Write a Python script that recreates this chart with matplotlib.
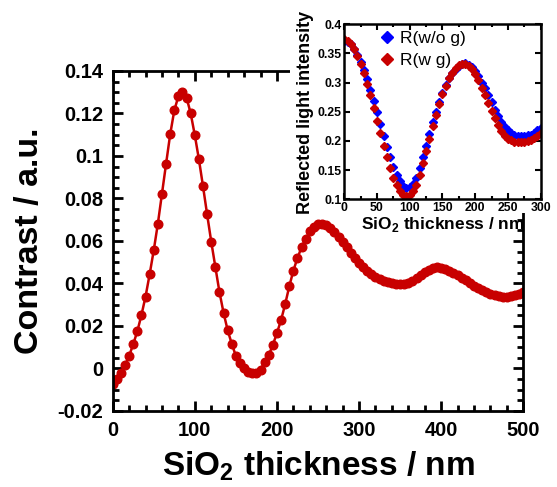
import numpy as np
import matplotlib
matplotlib.use('Agg')
import matplotlib.pyplot as plt
from matplotlib.patches import Rectangle
from matplotlib.ticker import MultipleLocator

plt.rcParams['font.family'] = ['Liberation Sans', 'DejaVu Sans']
plt.rcParams['font.weight'] = 'bold'
plt.rcParams['mathtext.fontset'] = 'custom'
plt.rcParams['mathtext.rm'] = 'Liberation Sans:bold'
plt.rcParams['mathtext.bf'] = 'Liberation Sans:bold'

# main panel: optical contrast vs SiO2 thickness (5 nm steps)
thickness = np.arange(0, 505, 5)
contrast = [
    -0.0075, -0.0049, -0.0021, 0.0016, 0.0059, 0.0114, 0.0175, 0.0251, 0.0338, 0.0443,
    0.0556, 0.0681, 0.0822, 0.0963, 0.1101, 0.1214, 0.1281, 0.1302, 0.1274, 0.1200,
    0.1098, 0.0984, 0.0857, 0.0725, 0.0597, 0.0478, 0.0360, 0.0262, 0.0180, 0.0116,
    0.0059, 0.0024, 0.0002, -0.0015, -0.0022, -0.0020, -0.0005, 0.0030, 0.0063, 0.0110,
    0.0167, 0.0227, 0.0302, 0.0386, 0.0460, 0.0520, 0.0570, 0.0610, 0.0645, 0.0668,
    0.0678, 0.0680, 0.0674, 0.0660, 0.0640, 0.0618, 0.0595, 0.0570, 0.0545, 0.0520,
    0.0498, 0.0478, 0.0460, 0.0445, 0.0432, 0.0420, 0.0411, 0.0405, 0.0401, 0.0398,
    0.0397, 0.0399, 0.0403, 0.0411, 0.0424, 0.0438, 0.0452, 0.0464, 0.0472, 0.0476,
    0.0475, 0.0470, 0.0461, 0.0451, 0.0440, 0.0428, 0.0415, 0.0403, 0.0390, 0.0378,
    0.0367, 0.0358, 0.0350, 0.0344, 0.0340, 0.0338, 0.0338, 0.0340, 0.0344, 0.0350,
    0.0358,
]

# inset: reflected light intensity without / with graphene
thk_in = np.arange(0, 305, 5)
r_wo = [
    0.372, 0.370, 0.366, 0.358, 0.348, 0.336, 0.322, 0.306, 0.288, 0.269,
    0.249, 0.229, 0.209, 0.190, 0.172, 0.156, 0.142, 0.131, 0.123, 0.120,
    0.121, 0.127, 0.137, 0.153, 0.172, 0.192, 0.212, 0.232, 0.250, 0.267,
    0.283, 0.296, 0.308, 0.317, 0.324, 0.329, 0.332, 0.333, 0.331, 0.327,
    0.320, 0.311, 0.300, 0.290, 0.278, 0.266, 0.253, 0.242, 0.232, 0.224,
    0.218, 0.213, 0.210, 0.209, 0.208, 0.208, 0.210, 0.211, 0.214, 0.218,
    0.222,
]
r_w = [
    0.375, 0.372, 0.367, 0.357, 0.346, 0.332, 0.316, 0.298, 0.278, 0.257,
    0.235, 0.213, 0.192, 0.172, 0.153, 0.137, 0.124, 0.114, 0.107, 0.106,
    0.108, 0.115, 0.125, 0.142, 0.162, 0.183, 0.204, 0.226, 0.245, 0.264,
    0.281, 0.295, 0.308, 0.317, 0.325, 0.330, 0.332, 0.332, 0.329, 0.323,
    0.315, 0.304, 0.291, 0.279, 0.265, 0.252, 0.239, 0.227, 0.217, 0.209,
    0.203, 0.201, 0.199, 0.198, 0.198, 0.198, 0.200, 0.202, 0.205, 0.209,
    0.213,
]

red = '#C80000'
blue = '#0000FF'

fig = plt.figure(figsize=(5.57, 4.87), dpi=100)
ax = fig.add_axes([0.2023, 0.1561, 0.7372, 0.6982])
ax.plot(thickness, contrast, '-o', color=red, lw=1.8, ms=6.2, mec=red, mfc=red)
ax.set_xlim(0, 500)
ax.set_ylim(-0.02, 0.14)
ax.xaxis.set_major_locator(MultipleLocator(100))
ax.xaxis.set_minor_locator(MultipleLocator(20))
ax.yaxis.set_minor_locator(MultipleLocator(0.005))
ax.set_yticks(np.arange(-0.02, 0.141, 0.02))
ax.set_yticklabels(['-0.02', '0', '0.02', '0.04', '0.06', '0.08', '0.1', '0.12', '0.14'])
ax.tick_params(which='both', direction='in', top=True, right=True, width=2)
ax.tick_params(which='major', length=7, labelsize=14.5, pad=7)
ax.tick_params(which='minor', length=4.5)
for s in ax.spines.values():
    s.set_linewidth(2)

fig.text(318 / 557, (487 - 475) / 487, r'SiO$_2$ thickness / nm', ha='center',
         va='baseline', fontsize=24, fontweight='bold')
fig.text(30 / 557, (487 - 241) / 487, 'Contrast / a.u.', rotation=90, ha='center',
         va='center', fontsize=24.5, fontweight='bold')

# white box behind the inset
fig.patches.append(Rectangle((0.5207, 0.5626), 0.4793, 0.4374, transform=fig.transFigure,
                             facecolor='white', edgecolor='none', zorder=0.5))

axi = fig.add_axes([0.6181, 0.5908, 0.3526, 0.3593])
axi.set_zorder(1)
axi.plot(thk_in, r_wo, 'D', color=blue, ms=4.1, mec=blue, label='R(w/o g)')
axi.plot(thk_in, r_w, 'D', color=red, ms=4.1, mec=red, label='R(w g)')
axi.set_xlim(0, 300)
axi.set_ylim(0.1, 0.4)
axi.xaxis.set_major_locator(MultipleLocator(50))
axi.xaxis.set_minor_locator(MultipleLocator(25))
axi.set_yticks([0.1, 0.15, 0.2, 0.25, 0.3, 0.35, 0.4])
axi.set_yticklabels(['0.1', '0.15', '0.2', '0.25', '0.3', '0.35', '0.4'])
axi.tick_params(which='both', direction='in', top=True, right=True, width=1.5)
axi.tick_params(which='major', length=4, labelsize=8.8, pad=2)
axi.tick_params(which='minor', length=2.5)
for s in axi.spines.values():
    s.set_linewidth(1.8)
axi.set_xlabel(r'SiO$_2$ thickness / nm', fontsize=12.5, fontweight='bold', labelpad=1)
fig.text(305 / 557, (487 - 112) / 487, 'Reflected light intensity', rotation=90,
         ha='center', va='center', fontsize=13, fontweight='bold', zorder=2)
leg = axi.legend(loc='upper left', bbox_to_anchor=(0.13, 1.02), frameon=False,
                 markerscale=1.6, handlelength=0.8, handletextpad=0.35,
                 labelspacing=0.35, borderaxespad=0.2,
                 prop={'size': 12.5, 'weight': 'normal'})

fig.savefig('out.png', dpi=100)
